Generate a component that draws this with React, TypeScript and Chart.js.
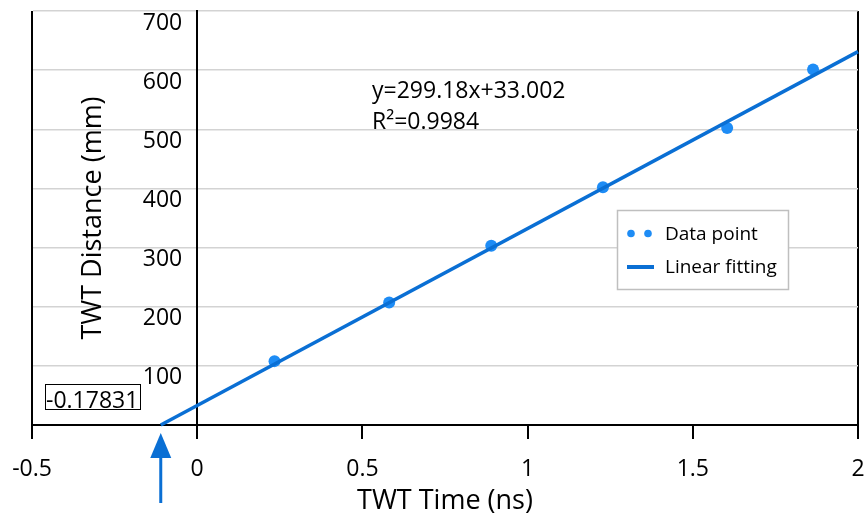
import React, { useEffect, useRef } from 'react';
import { Chart, registerables } from 'chart.js';

Chart.register(...registerables);

// ---- data ----
const timeNs = [0.234, 0.581, 0.89, 1.228, 1.604, 1.864];
const distanceMm = [108, 207, 303, 402, 502, 601];
const fitSlope = 299.18;
const fitIntercept = 33.002;
const fitXEnd = 2;
const seriesLabels = ['Data point', 'Linear fitting'];
const equationText = 'y=299.18x+33.002';
const r2Text = 'R\u00B2=0.9984';
const interceptBoxText = '-0.17831';
const xTickValues = [-0.5, 0, 0.5, 1, 1.5, 2];
const yTickValues = [0, 100, 200, 300, 400, 500, 600, 700];
const xTitle = 'TWT Time (ns)';
const yTitle = 'TWT Distance (mm)';

// ---- styles ----
const FONT = "'Open Sans', sans-serif";
const POINT_COLOR = '#1E8CF5';
const LINE_COLOR = '#0A6FD4';
const GRID_COLOR = '#d3d3d3';

const overlayPlugin = {
  id: 'overlay',
  afterLayout(chart: any) {
    const xs = chart.scales.x;
    const ys = chart.scales.y;
    ys.left = chart.chartArea.left;
    ys.right = xs.getPixelForValue(0);
  },
  afterDraw(chart: any) {
    const ctx = chart.ctx as CanvasRenderingContext2D;
    const xs = chart.scales.x;
    const ys = chart.scales.y;
    ctx.save();

    // equation text
    ctx.fillStyle = '#000';
    ctx.font = `23px ${FONT}`;
    ctx.textAlign = 'left';
    ctx.textBaseline = 'alphabetic';
    ctx.fillText(equationText, 372, 98);
    ctx.fillText(r2Text, 372, 129);

    // intercept box
    ctx.strokeStyle = '#000';
    ctx.lineWidth = 1;
    ctx.strokeRect(45.5, 384.5, 95, 25);
    ctx.fillText(interceptBoxText, 46, 408);

    // arrow pointing at the x-intercept of the fit
    const xZero = -fitIntercept / fitSlope;
    const ax = xs.getPixelForValue(xZero);
    const tip = ys.getPixelForValue(0) + 8;
    ctx.fillStyle = LINE_COLOR;
    ctx.strokeStyle = LINE_COLOR;
    ctx.beginPath();
    ctx.moveTo(ax, tip);
    ctx.lineTo(ax - 10.5, tip + 25);
    ctx.lineTo(ax + 10.5, tip + 25);
    ctx.closePath();
    ctx.fill();
    ctx.lineWidth = 3;
    ctx.beginPath();
    ctx.moveTo(ax, tip + 24);
    ctx.lineTo(ax, tip + 70);
    ctx.stroke();

    // legend
    ctx.fillStyle = '#fff';
    ctx.fillRect(617.5, 210.5, 171, 79);
    ctx.strokeStyle = '#bfbfbf';
    ctx.lineWidth = 1.5;
    ctx.strokeRect(617.5, 210.5, 171, 79);
    ctx.fillStyle = POINT_COLOR;
    [631, 648].forEach((cx) => {
      ctx.beginPath();
      ctx.arc(cx, 233.5, 3.8, 0, Math.PI * 2);
      ctx.fill();
    });
    ctx.strokeStyle = LINE_COLOR;
    ctx.lineWidth = 4;
    ctx.beginPath();
    ctx.moveTo(627, 267);
    ctx.lineTo(654, 267);
    ctx.stroke();
    ctx.fillStyle = '#000';
    ctx.font = `19px ${FONT}`;
    ctx.fillText(chart.data.datasets[0].label, 665, 240);
    ctx.fillText(chart.data.datasets[1].label, 665, 273);

    ctx.restore();
  },
};

export default function App() {
  const canvasRef = useRef<HTMLCanvasElement | null>(null);

  useEffect(() => {
    if (!canvasRef.current) return;
    Chart.defaults.font.family = FONT;
    Chart.defaults.color = '#000';

    const xZero = -fitIntercept / fitSlope;
    const fitPoints = [
      { x: xZero, y: fitSlope * xZero + fitIntercept },
      { x: fitXEnd, y: fitSlope * fitXEnd + fitIntercept },
    ];
    const blackX = [-0.5, 0, 2];

    const chart = new Chart(canvasRef.current, {
      type: 'scatter',
      data: {
        datasets: [
          {
            label: seriesLabels[0],
            data: timeNs.map((t, i) => ({ x: t, y: distanceMm[i] })),
            backgroundColor: POINT_COLOR,
            borderWidth: 0,
            pointRadius: 6,
            order: 2,
          },
          {
            label: seriesLabels[1],
            data: fitPoints,
            showLine: true,
            borderColor: LINE_COLOR,
            borderWidth: 3.5,
            pointRadius: 0,
            fill: false,
            clip: false,
            order: 1,
          } as any,
        ],
      },
      options: {
        animation: false,
        responsive: false,
        layout: { padding: { left: 32, right: 7, top: 11, bottom: 0 } },
        plugins: {
          legend: { display: false },
          tooltip: { enabled: false },
        },
        scales: {
          x: {
            type: 'linear',
            position: 'bottom',
            min: -0.5,
            max: 2,
            afterBuildTicks: (s: any) => {
              s.ticks = xTickValues.map((v) => ({ value: v }));
            },
            afterFit: (s: any) => {
              s.height = 98;
              s.paddingLeft = 0;
              s.paddingRight = 0;
            },
            ticks: {
              autoSkip: false,
              maxRotation: 0,
              padding: 17,
              color: '#000',
              font: { size: 23, family: FONT },
              callback: (v: any) => String(v),
            },
            grid: {
              drawOnChartArea: true,
              drawTicks: true,
              tickLength: 14,
              lineWidth: 2,
              tickColor: '#000',
              color: (c: any) =>
                c.tick && blackX.includes(c.tick.value) ? '#000' : 'rgba(0,0,0,0)',
            },
            border: { display: true, color: '#000', width: 2 },
            title: {
              display: true,
              text: xTitle,
              color: '#000',
              font: { size: 27, family: FONT },
              padding: { top: 0, bottom: 5 },
            },
          },
          y: {
            type: 'linear',
            position: 'left',
            min: 0,
            max: 700,
            afterBuildTicks: (s: any) => {
              s.ticks = yTickValues.map((v) => ({ value: v }));
            },
            afterFit: (s: any) => {
              s.width = 0;
              s.paddingTop = 0;
              s.paddingBottom = 0;
            },
            ticks: {
              padding: 15,
              labelOffset: 12,
              color: '#000',
              font: { size: 23, family: FONT },
              callback: (v: any) => (v === 0 ? '' : String(v)),
            },
            grid: {
              color: GRID_COLOR,
              lineWidth: 1.5,
              drawTicks: false,
            },
            border: { display: true, color: '#000', width: 2 },
            title: {
              display: true,
              text: yTitle,
              color: '#000',
              font: { size: 27, family: FONT },
              padding: { top: 45, bottom: 0 },
            },
          },
        },
      } as any,
      plugins: [overlayPlugin],
    });

    return () => chart.destroy();
  }, []);

  return (
    <div style={{ position: 'absolute', left: 0, top: 0, width: 865, height: 523, background: '#fff' }}>
      <canvas ref={canvasRef} width={865} height={523} />
    </div>
  );
}
